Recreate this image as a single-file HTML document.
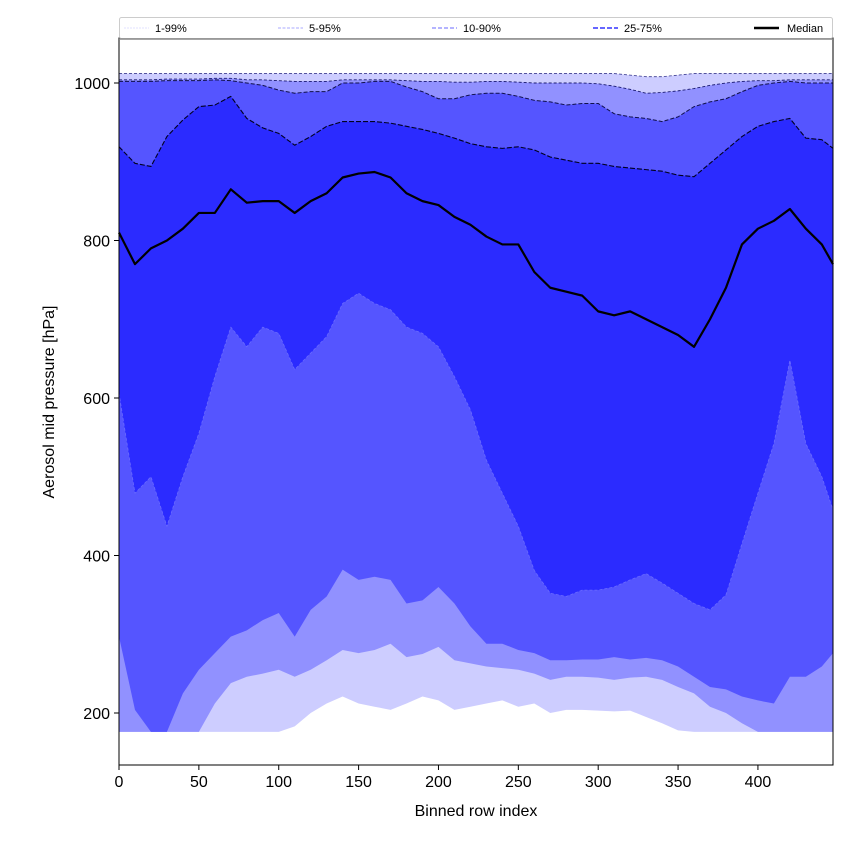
<!DOCTYPE html>
<html><head><meta charset="utf-8"><style>
body{margin:0;background:#fff;}
svg{display:block;font-family:"Liberation Sans","DejaVu Sans",sans-serif;}
</style></head><body>
<svg id="chart" width="850" height="850" viewBox="0 0 850 850"></svg>
<script>
const xs=[0,10,20,30,40,50,60,70,80,90,100,110,120,130,140,150,160,170,180,190,200,210,220,230,240,250,260,270,280,290,300,310,320,330,340,350,360,370,380,390,400,410,420,430,440,447];
const p99=[1012,1012,1012,1012,1012,1012,1012,1012,1012,1012,1012,1012,1012,1012,1012,1012,1012,1012,1012,1012,1012,1012,1012,1012,1012,1012,1012,1012,1012,1012,1012,1012,1010,1008,1008,1010,1012,1012,1012,1012,1012,1012,1012,1012,1012,1012];
const p95=[1004,1004,1004,1005,1005,1005,1006,1006,1004,1004,1003,1002,1002,1002,1004,1004,1004,1004,1003,1002,1002,1001,1001,1002,1002,1001,1000,1000,1000,1000,999,996,992,987,988,990,993,997,1000,1002,1003,1003,1004,1004,1004,1004];
const p90=[1002,1002,1002,1003,1003,1003,1004,1003,1000,997,991,987,989,989,1000,1000,1002,1002,995,989,980,980,985,987,987,983,978,976,972,974,974,961,957,955,951,957,970,976,980,989,997,1000,1002,1000,1000,1000];
const p75=[919,898,894,932,953,970,972,983,955,943,936,921,932,945,951,951,951,949,945,941,936,930,923,919,917,919,915,906,902,898,898,894,892,890,888,883,881,898,915,932,945,951,955,930,928,917];
const median=[810,770,790,800,815,835,835,865,848,850,850,835,850,860,880,885,887,880,860,850,845,830,820,805,795,795,760,740,735,730,710,705,710,700,690,680,665,700,740,795,815,825,840,815,795,770];
const p25=[606,479,500,437,500,555,627,690,665,690,682,636,657,678,720,733,720,712,690,682,665,627,585,521,479,437,381,352,348,356,356,360,369,377,365,352,339,331,350,415,479,542,648,542,500,458];
const p10=[297,204,176,176,225,255,276,297,305,318,327,297,331,348,382,369,373,369,339,343,360,339,310,288,288,280,276,267,267,268,268,271,268,270,267,259,246,233,230,221,216,212,246,246,259,276];
const p5=[176,176,176,176,176,176,212,238,246,250,255,246,255,267,280,276,280,288,271,275,284,267,263,259,257,255,250,242,246,246,245,242,245,246,242,233,225,208,200,187,176,176,176,176,176,176];
const p1=[176,176,176,176,176,176,176,176,176,176,176,183,200,212,221,212,208,204,212,221,216,204,208,212,216,208,212,200,204,204,203,202,203,195,187,178,176,176,176,176,176,176,176,176,176,176];
const xTicks=[0,50,100,150,200,250,300,350,400];
const yTicks=[200,400,600,800,1000];
const legendLabels=["1-99%","5-95%","10-90%","25-75%","Median"];

const L=119,R=833,T=38,B=765;
const X=v=>L+(v-0)*(R-L)/447;
const Y=v=>713-(v-200)*0.7875;
const svg=document.getElementById('chart');
const NS='http://www.w3.org/2000/svg';
function mk(tag,attrs,parent){const e=document.createElementNS(NS,tag);for(const k in attrs)e.setAttribute(k,attrs[k]);(parent||svg).appendChild(e);return e;}
function band(lo,hi,color,name){
  let pts=xs.map((x,i)=>X(x)+','+Y(hi[i]));
  pts=pts.concat(xs.map((x,i)=>X(x)+','+Y(lo[i])).reverse());
  const p=mk('polygon',{points:pts.join(' '),fill:color});
  
  
}
function line(arr,color,w,dash,name){
  const p=mk('polyline',{points:xs.map((x,i)=>X(x)+','+Y(arr[i])).join(' '),fill:'none',stroke:color,'stroke-width':w,'stroke-dasharray':dash,'stroke-linejoin':'round'});
  
  
}
band(p1,p99,'#cdcdff','band-1-99');
band(p5,p95,'#9191ff','band-5-95');
band(p10,p90,'#5555ff','band-10-90');
band(p25,p75,'#2b2bff','band-25-75');
line(p99,'#3a3a90',0.8,'3,2','line-p99');
line(p95,'#1a1a70',0.9,'3,2','line-p95');
line(p90,'#10104a',1,'4,2','line-p90');
line(p75,'#000020',1.1,'5,2','line-p75');
line(p25,'#6a6aff',0.8,'3,2','line-p25');
line(median,'#000',2.2,'','median-line');

// frame
const fr=mk('rect',{x:L,y:T,width:R-L,height:B-T,fill:'none',stroke:'#000','stroke-width':1});


xTicks.forEach(t=>{
  const g=mk('g',{});
  
  
  mk('line',{x1:X(t),x2:X(t),y1:B,y2:B+5,stroke:'#000'},g);
  const tx=mk('text',{x:X(t),y:B+22,'text-anchor':'middle','font-size':16},g);tx.textContent=t;
});
yTicks.forEach(t=>{
  const g=mk('g',{});
  
  
  mk('line',{x1:L-5,x2:L,y1:Y(t),y2:Y(t),stroke:'#000'},g);
  const tx=mk('text',{x:L-9,y:Y(t)+6,'text-anchor':'end','font-size':16},g);tx.textContent=t;
});
const xl=mk('text',{x:476,y:816,'text-anchor':'middle','font-size':16});xl.textContent='Binned row index';


const yl=mk('text',{x:0,y:0,'text-anchor':'middle','font-size':16,transform:'translate(54,402) rotate(-90)'});yl.textContent='Aerosol mid pressure [hPa]';



// legend
const lg=mk('g',{});


mk('rect',{x:119.5,y:17.5,width:713,height:21,fill:'#fff',stroke:'#ccc','stroke-width':1,rx:2},lg);
mk('line',{x1:119,x2:833,y1:39,y2:39,stroke:'#888','stroke-width':1.5},lg);
const lx=[124,278,432,593,754];
const lcol=['#e0e0ff','#aaaaff','#8888ff','#6666ff','#000'];
const lw=[1,1,1.3,2,2.5];
const ld=['2,1','3,1.5','4,2','5,2',''];
legendLabels.forEach((s,i)=>{
  const g=mk('g',{},lg);
  
  
  mk('line',{x1:lx[i],x2:lx[i]+25,y1:28,y2:28,stroke:lcol[i],'stroke-width':lw[i],'stroke-dasharray':ld[i]},g);
  const t=mk('text',{x:lx[i]+(i==4?33:31),y:32,'font-size':11},g);t.textContent=s;
});
</script>
</body></html>
